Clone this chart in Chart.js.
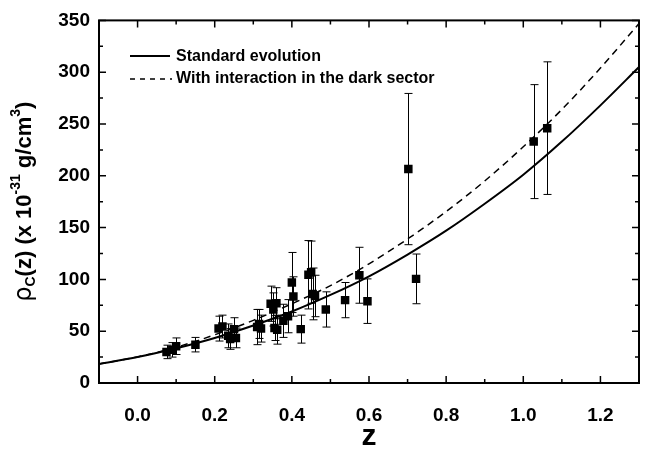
<!DOCTYPE html>
<html>
<head>
<meta charset="utf-8">
<script src="https://cdn.jsdelivr.net/npm/chart.js@4/dist/chart.umd.min.js"></script>
<style>
    html, body { margin: 0; padding: 0; background: #fff; }
    #wrap { width: 659px; height: 454px; }
</style>
</head>
<body>
<div id="wrap"><canvas id="rho-chart" width="659" height="454"></canvas></div>
<script>
Chart.defaults.font.family = "'Liberation Sans', Arial, Helvetica, sans-serif";
Chart.defaults.color = '#000';

// Observed points: redshift, density (x 10^-31 g/cm^3) and error
const OBS_Z = [0.075, 0.09, 0.10, 0.15, 0.21, 0.22, 0.235, 0.24, 0.25, 0.255,
    0.31, 0.315, 0.32, 0.345, 0.352, 0.36, 0.355, 0.362, 0.378, 0.39,
    0.40, 0.404, 0.423, 0.443, 0.45, 0.454, 0.46, 0.488, 0.538, 0.575,
    0.596, 0.702, 0.722, 1.027, 1.062];
const OBS_RHO = [30, 32, 35.5, 37, 52.5, 54.5, 45.5, 42.5, 52, 43.5,
    54, 57, 52.5, 76.5, 71, 77, 53, 51.5, 60, 64.5,
    97, 83.5, 52, 104.5, 107, 86, 84, 71, 80, 104,
    79, 206.5, 100.5, 233, 246];
const OBS_ERR = [6.5, 7, 8, 7, 12, 11, 11.5, 10, 11, 9.5,
    17, 14, 13, 17, 16, 15, 12, 14, 16, 16,
    29, 19, 13.5, 33, 30, 25, 20, 17, 17, 27,
    21.5, 73, 24, 55, 64];

// Model curves
const CURVE_Z = [-0.1, 0.0, 0.1, 0.2, 0.3, 0.4, 0.5, 0.6, 0.7, 0.8, 0.9, 1.0, 1.1, 1.2, 1.3];
const STANDARD_RHO = [18.4, 25, 33.5, 43.5, 55.5, 69, 85, 103, 124, 147, 173, 201, 233, 268, 305];
const INTERACTION_RHO = [18.3, 25.2, 34.5, 46.5, 60.5, 76.5, 94, 115, 139, 165.5, 195, 228, 264, 304, 347];

const X_TICKS = [0.0, 0.2, 0.4, 0.6, 0.8, 1.0, 1.2];
const X_MINOR = [-0.1, 0.1, 0.3, 0.5, 0.7, 0.9, 1.1, 1.3];
const Y_TICKS = [0, 50, 100, 150, 200, 250, 300, 350];
const Y_MINOR = [25, 75, 125, 175, 225, 275, 325];

const LEGEND_LABELS = ['Standard evolution', 'With interaction in the dark sector'];

function toPoints(xs, ys) {
    return xs.map((x, i) => ({ x: x, y: ys[i] }));
}

const errorBars = {
    id: 'errorBars',
    beforeDatasetsDraw(chart) {
        const { ctx, scales: { x, y } } = chart;
        ctx.save();
        ctx.strokeStyle = '#000';
        ctx.lineWidth = 1;
        OBS_Z.forEach((z, i) => {
            const px = Math.round(x.getPixelForValue(z)) + 0.5;
            const top = y.getPixelForValue(OBS_RHO[i] + OBS_ERR[i]);
            const bot = y.getPixelForValue(OBS_RHO[i] - OBS_ERR[i]);
            ctx.beginPath();
            ctx.moveTo(px, top);
            ctx.lineTo(px, bot);
            ctx.moveTo(px - 4, top);
            ctx.lineTo(px + 4, top);
            ctx.moveTo(px - 4, bot);
            ctx.lineTo(px + 4, bot);
            ctx.stroke();
        });
        ctx.restore();
    }
};

const frameAndText = {
    id: 'frameAndText',
    afterDraw(chart) {
        const { ctx, chartArea: a, scales: { x, y } } = chart;
        ctx.save();

        // inward ticks on all four sides
        ctx.strokeStyle = '#000';
        ctx.lineWidth = 1.5;
        const tick = (vals, len) => {
            vals.forEach(v => {
                const px = x.getPixelForValue(v);
                ctx.beginPath();
                ctx.moveTo(px, a.bottom); ctx.lineTo(px, a.bottom - len);
                ctx.moveTo(px, a.top); ctx.lineTo(px, a.top + len);
                ctx.stroke();
            });
        };
        const ytick = (vals, len) => {
            vals.forEach(v => {
                const py = y.getPixelForValue(v);
                ctx.beginPath();
                ctx.moveTo(a.left, py); ctx.lineTo(a.left + len, py);
                ctx.moveTo(a.right, py); ctx.lineTo(a.right - len, py);
                ctx.stroke();
            });
        };
        tick(X_TICKS, 7);
        tick(X_MINOR, 4);
        ytick(Y_TICKS, 7);
        ytick(Y_MINOR, 4);

        ctx.lineWidth = 2;
        ctx.strokeRect(a.left, a.top, a.right - a.left, a.bottom - a.top);

        // legend
        ctx.font = "bold 16px 'Liberation Sans', Arial, sans-serif";
        ctx.textBaseline = 'middle';
        ctx.fillStyle = '#000';
        ctx.lineWidth = 2;
        ctx.beginPath();
        ctx.moveTo(130, 56); ctx.lineTo(170, 56);
        ctx.stroke();
        ctx.fillText(LEGEND_LABELS[0], 176, 57);
        ctx.lineWidth = 1.5;
        ctx.setLineDash([5, 5]);
        ctx.beginPath();
        ctx.moveTo(130, 79); ctx.lineTo(172, 79);
        ctx.stroke();
        ctx.setLineDash([]);
        ctx.fillText(LEGEND_LABELS[1], 176, 79);

        // x title
        ctx.font = "bold 30px 'Liberation Sans', Arial, sans-serif";
        ctx.textAlign = 'center';
        ctx.fillText('z', (a.left + a.right) / 2, 437);

        // y title with sub/superscripts
        const big = "bold 22px 'Liberation Sans', Arial, sans-serif";
        const small = "bold 14px 'Liberation Sans', Arial, sans-serif";
        const parts = [
            { t: '\u03c1', f: "24px 'DejaVu Sans', sans-serif", dy: 0 },
            { t: 'C', f: small, dy: 6 },
            { t: '(z) (x 10', f: big, dy: 0 },
            { t: '-31', f: small, dy: -9 },
            { t: ' g/cm', f: big, dy: 0 },
            { t: '3', f: small, dy: -9 },
            { t: ')', f: big, dy: 0 }
        ];
        let total = 0;
        parts.forEach(p => { ctx.font = p.f; p.w = ctx.measureText(p.t).width; total += p.w; });
        ctx.translate(25, (a.top + a.bottom) / 2);
        ctx.rotate(-Math.PI / 2);
        ctx.textAlign = 'left';
        let cx = -total / 2;
        parts.forEach(p => {
            ctx.font = p.f;
            ctx.fillText(p.t, cx, p.dy);
            cx += p.w;
        });
        ctx.restore();
    }
};

const ctx = document.getElementById('rho-chart').getContext('2d');
new Chart(ctx, {
    type: 'scatter',
    data: {
        datasets: [
            {
                label: 'data',
                data: toPoints(OBS_Z, OBS_RHO),
                pointStyle: 'rect',
                pointRadius: 6,
                pointBorderWidth: 0,
                backgroundColor: '#000',
                borderColor: '#000',
                order: 0,
            },
            {
                label: LEGEND_LABELS[0],
                data: toPoints(CURVE_Z, STANDARD_RHO),
                showLine: true,
                pointRadius: 0,
                borderColor: '#000',
                borderWidth: 2,
                cubicInterpolationMode: 'monotone',
                order: 1,
            },
            {
                label: LEGEND_LABELS[1],
                data: toPoints(CURVE_Z, INTERACTION_RHO),
                showLine: true,
                pointRadius: 0,
                borderColor: '#000',
                borderWidth: 1.5,
                borderDash: [7, 5],
                cubicInterpolationMode: 'monotone',
                order: 2,
            }
        ]
    },
    options: {
        responsive: false,
        animation: false,
        events: [],
        layout: { padding: { top: 17, right: 20, left: 0, bottom: 0 } },
        plugins: {
            legend: { display: false },
            tooltip: { enabled: false }
        },
        scales: {
            x: {
                type: 'linear',
                min: -0.1,
                max: 1.3,
                afterBuildTicks: s => { s.ticks = X_TICKS.map(v => ({ value: v })); },
                afterFit: s => { s.height = 71; },
                grid: { display: false, drawTicks: false },
                border: { display: false },
                ticks: {
                    font: { size: 19, weight: 'bold' },
                    padding: 21,
                    maxRotation: 0,
                    callback: v => v.toFixed(1)
                }
            },
            y: {
                type: 'linear',
                min: 0,
                max: 350,
                afterBuildTicks: s => { s.ticks = Y_TICKS.map(v => ({ value: v })); },
                afterFit: s => { s.width = 99; },
                grid: { display: false, drawTicks: false },
                border: { display: false },
                ticks: {
                    font: { size: 19, weight: 'bold' },
                    padding: 9
                }
            }
        }
    },
    plugins: [errorBars, frameAndText]
});
</script>
</body>
</html>
